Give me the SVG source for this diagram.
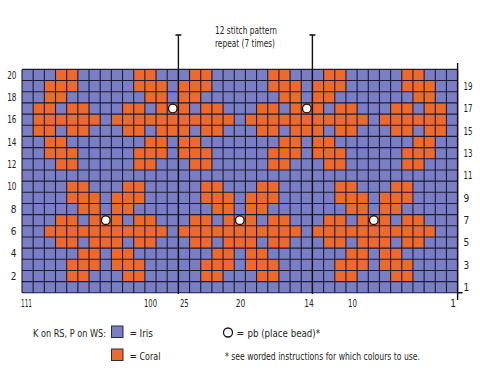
<svg xmlns="http://www.w3.org/2000/svg" width="480" height="381" viewBox="0 0 480 381">
<defs>
<style>
.t{font-family:"DejaVu Sans Condensed","Liberation Sans Narrow","Liberation Sans",sans-serif;font-stretch:condensed;fill:#231f20;font-size:10px}
.lg{font-size:10px}
.bg{fill:#7a7ec4}
.co{fill:#ee6a2c}
.gl{fill:none;stroke:#1c1c33;stroke-width:1.1}
.rl{fill:none;stroke:#111;stroke-width:1.4}
.bead{fill:#fff;stroke:#111;stroke-width:1.3}
.sw{stroke:#2a2a3a;stroke-width:1}
</style>
<path id="motif" d="M-3-4h2v1h-2z M2-4h2v1h-2z M-3-3h3v1h-3z M1-3h3v1h-3z M-2-2h2v1h-2z M1-2h2v1h-2z M-4-1h2v1h-2z M-1-1h3v1h-3z M3-1h2v1h-2z M-5 0h11v1h-11z M-4 1h2v1h-2z M-1 1h3v1h-3z M3 1h2v1h-2z M-2 2h2v1h-2z M1 2h2v1h-2z M-3 3h3v1h-3z M1 3h3v1h-3z M-3 4h2v1h-2z M2 4h2v1h-2z"/>
<clipPath id="gc"><rect x="0" y="0" width="39" height="20"/></clipPath>
</defs>
<rect width="480" height="381" fill="#fff"/>
<g id="chart" transform="translate(22,69.4) scale(11.17)">
<rect class="bg" x="0" y="0" width="39" height="20"/>
<g clip-path="url(#gc)" class="co">
<use href="#motif" x="-5" y="14"/>
<use href="#motif" x="7" y="14"/>
<use href="#motif" x="19" y="14"/>
<use href="#motif" x="31" y="14"/>
<use href="#motif" x="43" y="14"/>
<use href="#motif" x="1" y="4"/>
<use href="#motif" x="13" y="4"/>
<use href="#motif" x="25" y="4"/>
<use href="#motif" x="37" y="4"/>
</g>
<rect class="bg" x="0" y="0" width="1" height="20"/>
<rect class="bg" x="38" y="0" width="1" height="20"/>
<path class="gl" vector-effect="non-scaling-stroke" d="M0 0V20M1 0V20M2 0V20M3 0V20M4 0V20M5 0V20M6 0V20M7 0V20M8 0V20M9 0V20M10 0V20M11 0V20M12 0V20M13 0V20M14 0V20M15 0V20M16 0V20M17 0V20M18 0V20M19 0V20M20 0V20M21 0V20M22 0V20M23 0V20M24 0V20M25 0V20M26 0V20M27 0V20M28 0V20M29 0V20M30 0V20M31 0V20M32 0V20M33 0V20M34 0V20M35 0V20M36 0V20M37 0V20M38 0V20M39 0V20M0 0H39M0 1H39M0 2H39M0 3H39M0 4H39M0 5H39M0 6H39M0 7H39M0 8H39M0 9H39M0 10H39M0 11H39M0 12H39M0 13H39M0 14H39M0 15H39M0 16H39M0 17H39M0 18H39M0 19H39M0 20H39"/>
</g>
<g id="connectors">
<path class="rl" d="M178.4 35V294M175.4 35H181.4M312.4 35V294M309.4 35H315.4M457.6 63V300M457.6 292.8H462.5"/>
</g>
<g id="beads">
<circle class="bead" cx="172.8" cy="108.5" r="4.3"/>
<circle class="bead" cx="306.8" cy="108.5" r="4.3"/>
<circle class="bead" cx="105.8" cy="220.2" r="4.3"/>
<circle class="bead" cx="239.8" cy="220.2" r="4.3"/>
<circle class="bead" cx="373.8" cy="220.2" r="4.3"/>
</g>
<g id="repeat-label" class="t" text-anchor="middle" style="font-size:11px">
<text x="246" y="34.3" textLength="62" lengthAdjust="spacingAndGlyphs">12 stitch pattern</text>
<text x="245" y="46.8" textLength="60" lengthAdjust="spacingAndGlyphs">repeat (7 times)</text>
</g>
<g id="row-labels-left" class="t" text-anchor="end">
<text x="16.5" y="78.6" textLength="9.3" lengthAdjust="spacingAndGlyphs">20</text>
<text x="16.5" y="100.9" textLength="9.3" lengthAdjust="spacingAndGlyphs">18</text>
<text x="16.5" y="123.3" textLength="9.3" lengthAdjust="spacingAndGlyphs">16</text>
<text x="16.5" y="145.6" textLength="9.3" lengthAdjust="spacingAndGlyphs">14</text>
<text x="16.5" y="168" textLength="9.3" lengthAdjust="spacingAndGlyphs">12</text>
<text x="16.5" y="190.3" textLength="9.3" lengthAdjust="spacingAndGlyphs">10</text>
<text x="16.5" y="212.7">8</text>
<text x="16.5" y="235">6</text>
<text x="16.5" y="257.3">4</text>
<text x="16.5" y="279.7">2</text>
</g>
<g id="row-labels-right" class="t">
<text x="463.5" y="89.8" textLength="9" lengthAdjust="spacingAndGlyphs">19</text>
<text x="463.5" y="112.1" textLength="9" lengthAdjust="spacingAndGlyphs">17</text>
<text x="463.5" y="134.5" textLength="9" lengthAdjust="spacingAndGlyphs">15</text>
<text x="463.5" y="156.8" textLength="9" lengthAdjust="spacingAndGlyphs">13</text>
<text x="463.5" y="179.1" textLength="9" lengthAdjust="spacingAndGlyphs">11</text>
<text x="463.5" y="201.5">9</text>
<text x="463.5" y="223.8">7</text>
<text x="463.5" y="246.2">5</text>
<text x="463.5" y="268.5">3</text>
<text x="463.5" y="290.8">1</text>
</g>
<g id="stitch-labels" class="t" text-anchor="middle">
<text x="26.5" y="307.2" textLength="11" lengthAdjust="spacingAndGlyphs">111</text>
<text x="150.5" y="307.2" textLength="13" lengthAdjust="spacingAndGlyphs">100</text>
<text x="184.3" y="307.2" textLength="8.7" lengthAdjust="spacingAndGlyphs">25</text>
<text x="240.6" y="307.2" textLength="9.5" lengthAdjust="spacingAndGlyphs">20</text>
<text x="309" y="307.2" textLength="9.5" lengthAdjust="spacingAndGlyphs">14</text>
<text x="352.5" y="307.2" textLength="9" lengthAdjust="spacingAndGlyphs">10</text>
<text x="453" y="307.2">1</text>
</g>
<g id="legend">
<text class="t lg" x="33" y="337" textLength="73" lengthAdjust="spacingAndGlyphs">K on RS, P on WS:</text>
<rect class="bg sw" x="111.5" y="326" width="11.5" height="11.5"/>
<text class="t lg" y="337"><tspan x="129.5">=</tspan><tspan x="139.5">Iris</tspan></text>
<rect class="co sw" x="111.5" y="349" width="11.5" height="11.5"/>
<text class="t lg" y="360"><tspan x="129.5">=</tspan><tspan x="139.5" textLength="21" lengthAdjust="spacingAndGlyphs">Coral</tspan></text>
<circle class="bead" cx="228" cy="332.5" r="4.5"/>
<text class="t lg" y="337"><tspan x="236.5">=</tspan><tspan x="247.5" textLength="72.5" lengthAdjust="spacingAndGlyphs">pb (place bead)*</tspan></text>
<text class="t lg" x="225" y="359.5" textLength="195" lengthAdjust="spacingAndGlyphs">* see worded instructions for which colours to use.</text>
</g>
</svg>
